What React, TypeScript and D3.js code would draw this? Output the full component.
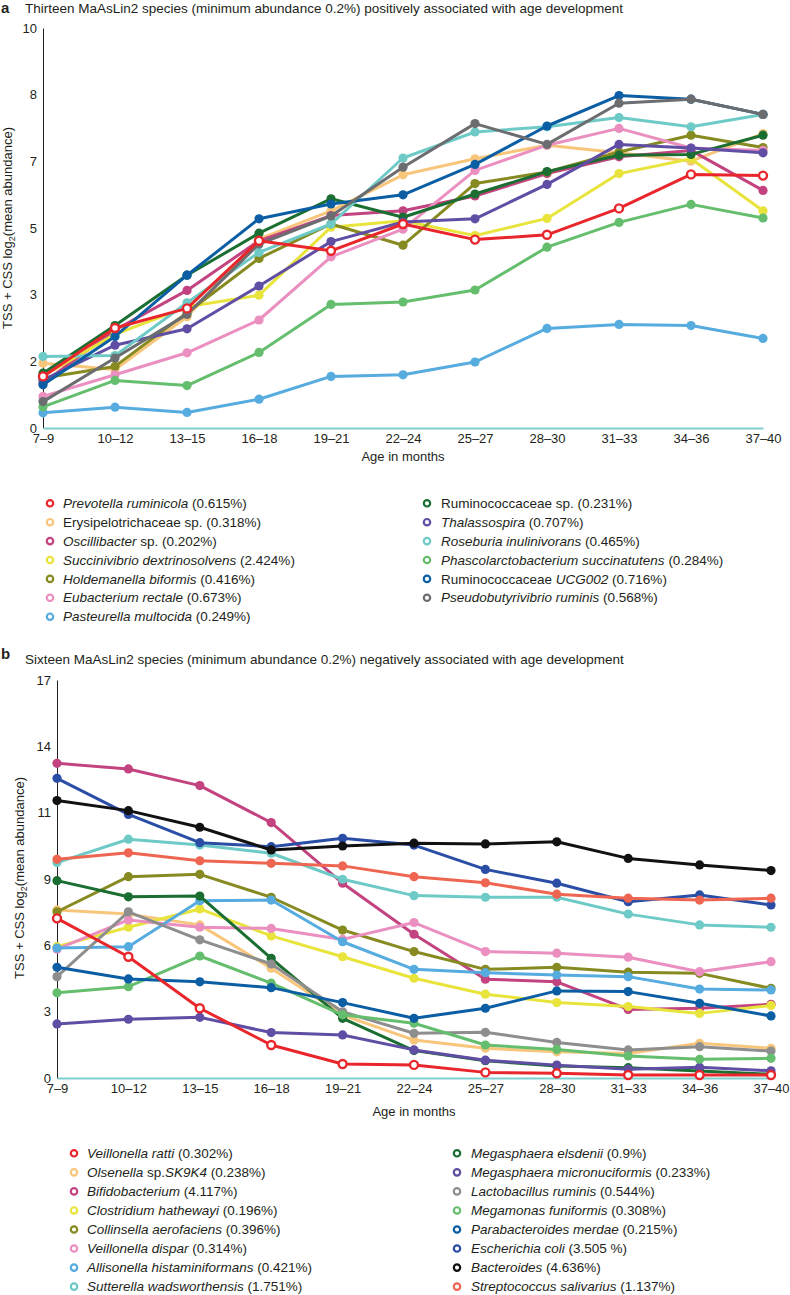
import React, { useEffect, useRef } from 'react';
import * as d3 from 'd3';

const ages = ['7–9', '10–12', '13–15', '16–18', '19–21', '22–24', '25–27', '28–30', '31–33', '34–36', '37–40'];

// panel a: positively associated species
const prevotella = [1.29, 2.5, 2.99, 4.68, 4.43, 5.1, 4.71, 4.83, 5.49, 6.34, 6.31];
const erysipelo = [1.62, 1.46, 2.78, 4.72, 5.43, 6.33, 6.73, 7.07, 6.88, 6.67, 7.36];
const oscillibacter = [1.12, 2.45, 3.44, 4.68, 5.31, 5.43, 5.8, 6.36, 6.78, 6.94, 5.94];
const succinivibrio = [1.3, 2.34, 3.03, 3.32, 5.02, 5.18, 4.81, 5.24, 6.36, 6.73, 5.43];
const holdemanella = [1.25, 1.54, 2.88, 4.24, 5.1, 4.57, 6.11, 6.4, 6.9, 7.32, 7.01];
const eubacterium = [0.79, 1.33, 1.88, 2.7, 4.28, 4.97, 6.44, 7.07, 7.49, 7.0, 6.94];
const pasteurella = [0.38, 0.52, 0.39, 0.72, 1.29, 1.33, 1.65, 2.49, 2.59, 2.56, 2.24];
const ruminoSp = [1.37, 2.56, 3.82, 4.87, 5.73, 5.27, 5.85, 6.41, 6.82, 6.84, 7.32];
const thalassospira = [1.2, 2.07, 2.48, 3.55, 4.66, 5.15, 5.23, 6.09, 7.09, 7.0, 6.88];
const roseburia = [1.79, 1.81, 3.13, 4.39, 5.1, 6.75, 7.4, 7.53, 7.76, 7.53, 7.84];
const phascolarcto = [0.53, 1.19, 1.06, 1.89, 3.09, 3.15, 3.45, 4.52, 5.14, 5.59, 5.25];
const ruminoUCG = [1.08, 2.29, 3.82, 5.23, 5.6, 5.83, 6.59, 7.55, 8.31, 8.22, 7.84];
const pseudobutyri = [0.66, 1.75, 2.84, 4.6, 5.3, 6.52, 7.61, 7.09, 8.12, 8.22, 7.84];

// panel b: negatively associated species
const veillRatti = [6.82, 5.18, 2.98, 1.41, 0.6, 0.56, 0.24, 0.2, 0.13, 0.13, 0.13];
const olsenella = [7.18, 7.0, 6.54, 4.69, 2.69, 1.62, 1.27, 1.12, 1.05, 1.48, 1.27];
const bifido = [13.44, 13.2, 12.49, 10.91, 8.32, 6.14, 4.22, 4.11, 2.93, 2.98, 3.15];
const clostridium = [5.61, 6.44, 7.22, 6.07, 5.18, 4.26, 3.58, 3.22, 3.05, 2.76, 3.1];
const collinsella = [7.1, 8.6, 8.7, 7.72, 6.32, 5.4, 4.64, 4.73, 4.52, 4.47, 3.83];
const veillDispar = [5.5, 6.75, 6.44, 6.39, 5.92, 6.64, 5.4, 5.33, 5.16, 4.54, 4.97];
const allisonella = [5.55, 5.61, 7.57, 7.6, 5.82, 4.64, 4.5, 4.4, 4.33, 3.8, 3.76];
const sutterella = [9.2, 10.2, 9.95, 9.6, 8.49, 7.79, 7.72, 7.72, 7.0, 6.54, 6.44];
const megaElsdenii = [8.43, 7.74, 7.77, 5.11, 2.55, 1.17, 0.74, 0.51, 0.44, 0.3, 0.16];
const megaMicro = [2.31, 2.51, 2.59, 1.94, 1.84, 1.2, 0.76, 0.55, 0.37, 0.46, 0.31];
const lactobacillus = [4.33, 7.1, 5.9, 4.87, 2.83, 1.91, 1.95, 1.52, 1.2, 1.34, 1.15];
const megamonas = [3.64, 3.9, 5.21, 4.05, 2.7, 2.34, 1.41, 1.22, 0.94, 0.8, 0.84];
const parabacteroides = [4.73, 4.23, 4.11, 3.86, 3.22, 2.55, 2.98, 3.72, 3.69, 3.19, 2.65];
const ecoli = [12.8, 11.26, 10.05, 9.88, 10.24, 9.95, 8.91, 8.32, 7.53, 7.82, 7.39];
const bacteroides = [11.85, 11.42, 10.71, 9.74, 9.91, 10.03, 10.0, 10.09, 9.38, 9.1, 8.86];
const streptococcus = [9.34, 9.62, 9.28, 9.17, 9.06, 8.6, 8.34, 7.85, 7.68, 7.6, 7.68];

// legend labels as [text, italic] pieces
const posLabels = [
  [['Prevotella ruminicola', 1], [' (0.615%)', 0]],
  [['Erysipelotrichaceae sp. (0.318%)', 0]],
  [['Oscillibacter', 1], [' sp. (0.202%)', 0]],
  [['Succinivibrio dextrinosolvens', 1], [' (2.424%)', 0]],
  [['Holdemanella biformis', 1], [' (0.416%)', 0]],
  [['Eubacterium rectale', 1], [' (0.673%)', 0]],
  [['Pasteurella multocida', 1], [' (0.249%)', 0]],
  [['Ruminococcaceae sp. (0.231%)', 0]],
  [['Thalassospira', 1], [' (0.707%)', 0]],
  [['Roseburia inulinivorans', 1], [' (0.465%)', 0]],
  [['Phascolarctobacterium succinatutens', 1], [' (0.284%)', 0]],
  [['Ruminococcaceae ', 0], ['UCG002', 1], [' (0.716%)', 0]],
  [['Pseudobutyrivibrio ruminis', 1], [' (0.568%)', 0]],
];
const posColors = ['#e8262c', '#f8c67b', '#c2437f', '#e8e43c', '#868a20', '#ea8fc0', '#56abdf', '#1b6e31', '#5f4ea3', '#6ecac6', '#65be6e', '#0b5ea3', '#6c6d70'];
const posValues = [prevotella, erysipelo, oscillibacter, succinivibrio, holdemanella, eubacterium, pasteurella, ruminoSp, thalassospira, roseburia, phascolarcto, ruminoUCG, pseudobutyri];

const negLabels = [
  [['Veillonella ratti', 1], [' (0.302%)', 0]],
  [['Olsenella', 1], [' sp.', 0], ['SK9K4', 1], [' (0.238%)', 0]],
  [['Bifidobacterium', 1], [' (4.117%)', 0]],
  [['Clostridium hathewayi', 1], [' (0.196%)', 0]],
  [['Collinsella aerofaciens', 1], [' (0.396%)', 0]],
  [['Veillonella dispar', 1], [' (0.314%)', 0]],
  [['Allisonella histaminiformans', 1], [' (0.421%)', 0]],
  [['Sutterella wadsworthensis', 1], [' (1.751%)', 0]],
  [['Megasphaera elsdenii', 1], [' (0.9%)', 0]],
  [['Megasphaera micronuciformis', 1], [' (0.233%)', 0]],
  [['Lactobacillus ruminis', 1], [' (0.544%)', 0]],
  [['Megamonas funiformis', 1], [' (0.308%)', 0]],
  [['Parabacteroides merdae', 1], [' (0.215%)', 0]],
  [['Escherichia coli', 1], [' (3.505 %)', 0]],
  [['Bacteroides', 1], [' (4.636%)', 0]],
  [['Streptococcus salivarius', 1], [' (1.137%)', 0]],
];
const negColors = ['#e8262c', '#f8c67b', '#c2437f', '#e8e43c', '#868a20', '#ea8fc0', '#56abdf', '#6ecac6', '#1b6e31', '#5f4ea3', '#8e8e8e', '#65be6e', '#0b5ea3', '#2a4da5', '#111111', '#ee6551'];
const negValues = [veillRatti, olsenella, bifido, clostridium, collinsella, veillDispar, allisonella, sutterella, megaElsdenii, megaMicro, lactobacillus, megamonas, parabacteroides, ecoli, bacteroides, streptococcus];

const FONT = '"Liberation Sans", Arial, Helvetica, sans-serif';
const INK = '#231f20';

function drawPanel(root, p) {
  const g = root.append('g');
  const x = d3.scalePoint().domain(ages).range(p.xRange);
  const y = d3.scaleLinear().domain([0, p.yMax]).range(p.yRange);

  g.append('text').attr('x', 1).attr('y', p.letterY).attr('font-weight', 'bold').attr('font-size', 15).attr('fill', INK).text(p.letter);
  g.append('text').attr('x', 25).attr('y', p.titleY).attr('font-size', 13.5).attr('fill', INK).text(p.title);

  const yAxis = g.append('g')
    .attr('transform', `translate(${p.xRange[0]},0)`)
    .call(d3.axisLeft(y).tickValues(d3.range(7).map((i) => (i * p.yMax) / 6)).tickFormat(d3.format('.0f')).tickSize(0).tickPadding(6));
  yAxis.select('.domain').attr('stroke', INK).attr('stroke-width', 1);
  yAxis.selectAll('text').attr('font-size', 13).attr('font-family', FONT).attr('fill', INK);

  const xAxis = g.append('g')
    .attr('transform', `translate(0,${p.yRange[0]})`)
    .call(d3.axisBottom(x).tickSize(0).tickPadding(6));
  xAxis.select('.domain').attr('stroke', '#7fcfcf').attr('stroke-width', 2);
  xAxis.selectAll('text').attr('font-size', 13).attr('font-family', FONT).attr('fill', INK);

  g.append('text')
    .attr('x', (p.xRange[0] + p.xRange[1]) / 2).attr('y', p.xlabelY)
    .attr('text-anchor', 'middle').attr('font-size', 13).attr('fill', INK)
    .text('Age in months');

  const yl = g.append('text')
    .attr('transform', `translate(${p.ylabelX},${p.ylabelY}) rotate(-90)`)
    .attr('text-anchor', 'middle').attr('font-size', 13).attr('fill', INK);
  yl.append('tspan').text('TSS + CSS log');
  yl.append('tspan').attr('font-size', 9).attr('dy', 3).text('2');
  yl.append('tspan').attr('dy', -3).text('(mean abundance)');

  const line = d3.line().x((d, i) => x(ages[i])).y((d) => y(d));
  // red (open markers) is painted on top
  const order = d3.range(1, p.values.length).concat([0]);
  order.forEach((k) => {
    const s = g.append('g');
    const open = k === 0;
    s.append('path').datum(p.values[k]).attr('d', line).attr('fill', 'none')
      .attr('stroke', p.colors[k]).attr('stroke-width', 3).attr('stroke-linejoin', 'round');
    s.selectAll('circle').data(p.values[k]).join('circle')
      .attr('cx', (d, i) => x(ages[i])).attr('cy', (d) => y(d))
      .attr('r', open ? 4 : 4.6)
      .attr('fill', open ? '#fff' : p.colors[k])
      .attr('stroke', open ? p.colors[k] : 'none').attr('stroke-width', 2.4);
  });

  const lg = g.append('g');
  p.labels.forEach((lab, k) => {
    const col = k < p.split ? 0 : 1;
    const row = col === 0 ? k : k - p.split;
    const cy = p.legend.y0 + row * p.legend.step;
    lg.append('circle').attr('cx', p.legend.mx[col]).attr('cy', cy).attr('r', 3.2)
      .attr('fill', '#fff').attr('stroke', p.colors[k]).attr('stroke-width', 2.2);
    const t = lg.append('text').attr('x', p.legend.tx[col]).attr('y', cy + 4.6).attr('font-size', 13.5).attr('fill', INK);
    lab.forEach(([txt, it]) => t.append('tspan').attr('font-style', it ? 'italic' : 'normal').text(txt));
  });
}

export default function App() {
  const svgRef = useRef(null);

  useEffect(() => {
    const svg = d3.select(svgRef.current);
    svg.selectAll('*').remove();
    const root = svg.append('g').attr('font-family', FONT);

    drawPanel(root, {
      letter: 'a', letterY: 13, titleY: 13,
      title: 'Thirteen MaAsLin2 species (minimum abundance 0.2%) positively associated with age development',
      xRange: [43, 763], yRange: [428, 28], yMax: 10,
      xlabelY: 461, ylabelX: 12, ylabelY: 228,
      values: posValues, colors: posColors, labels: posLabels, split: 7,
      legend: { y0: 503.3, step: 18.9, mx: [50, 427], tx: [63, 441] },
    });

    drawPanel(root, {
      letter: 'b', letterY: 659, titleY: 664,
      title: 'Sixteen MaAsLin2 species (minimum abundance 0.2%) negatively associated with age development',
      xRange: [57, 771], yRange: [1078, 680], yMax: 17,
      xlabelY: 1116, ylabelX: 24, ylabelY: 878,
      values: negValues, colors: negColors, labels: negLabels, split: 8,
      legend: { y0: 1153.3, step: 19.05, mx: [74, 457], tx: [87, 471] },
    });
  }, []);

  return (
    <svg
      ref={svgRef}
      width={790}
      height={1295}
      style={{ position: 'absolute', left: 0, top: 0, background: '#fff' }}
    />
  );
}
